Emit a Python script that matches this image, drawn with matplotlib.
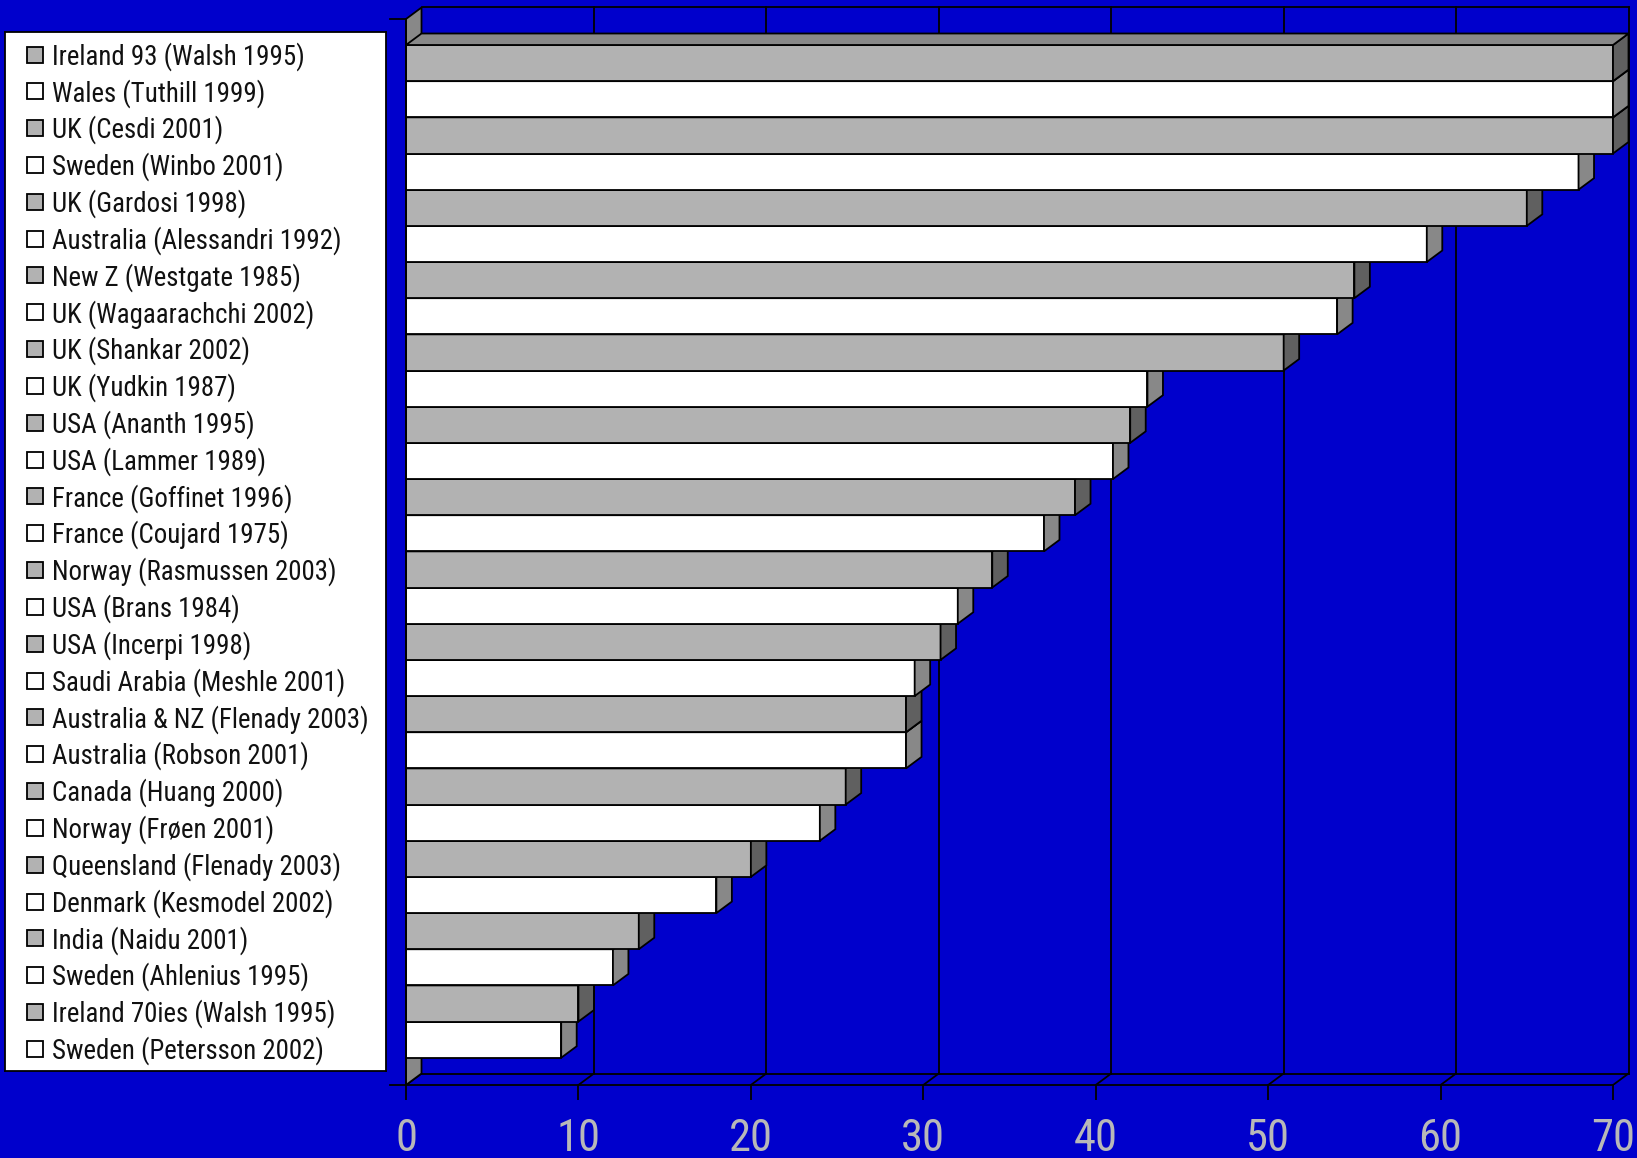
import matplotlib
matplotlib.use("Agg")
import matplotlib.pyplot as plt
from matplotlib.patches import Polygon, Rectangle

# stillbirth rate studies, top to bottom
studies = [
    "Ireland 93 (Walsh 1995)",
    "Wales (Tuthill 1999)",
    "UK (Cesdi 2001)",
    "Sweden (Winbo 2001)",
    "UK (Gardosi 1998)",
    "Australia (Alessandri 1992)",
    "New Z (Westgate 1985)",
    "UK (Wagaarachchi 2002)",
    "UK (Shankar 2002)",
    "UK (Yudkin 1987)",
    "USA (Ananth 1995)",
    "USA (Lammer 1989)",
    "France (Goffinet 1996)",
    "France (Coujard 1975)",
    "Norway (Rasmussen 2003)",
    "USA (Brans 1984)",
    "USA (Incerpi 1998)",
    "Saudi Arabia (Meshle 2001)",
    "Australia & NZ (Flenady 2003)",
    "Australia (Robson 2001)",
    "Canada (Huang 2000)",
    "Norway (Frøen 2001)",
    "Queensland (Flenady 2003)",
    "Denmark (Kesmodel 2002)",
    "India (Naidu 2001)",
    "Sweden (Ahlenius 1995)",
    "Ireland 70ies (Walsh 1995)",
    "Sweden (Petersson 2002)",
]
values = [70, 70, 70, 68, 65, 59.2, 55, 54, 50.9, 43, 42, 41, 38.8, 37,
          34, 32, 31, 29.5, 29, 29, 25.5, 24, 20, 18, 13.5, 12, 10, 9]
xticks = [0, 10, 20, 30, 40, 50, 60, 70]

BLUE = "#0000cc"
FACE = ["#b2b2b2", "#ffffff"]
SIDE = ["#606060", "#888888"]
TOP = "#888888"
LW = 1.3
FONT = ["Roboto Condensed", "DejaVu Sans"]

W, H = 1637, 1158
fig = plt.figure(figsize=(W / 100, H / 100), dpi=100)
fig.patch.set_facecolor(BLUE)

# pixel layout of the plot
X0, PER = 406, 17.243      # px of value 0, px per unit
BAR_TOP, PITCH = 45, 36.17  # px of first bar top, px per bar
def ux(px): return (px - X0) / PER
def uy(px): return (px - BAR_TOP) / PITCH

ax = fig.add_axes([380 / W, 1 - 1085 / H, (W - 380) / W, 1085 / H])
ax.set_xlim(ux(380), ux(W))
ax.set_ylim(uy(1085), uy(0))
ax.set_facecolor(BLUE)
for s in ax.spines.values():
    s.set_visible(False)
ax.set_yticks([])

DX = 15.5 / PER
DY = 11.5 / PITCH
vmax = xticks[-1]
y_front = uy(1085)          # front floor edge
y_back = y_front - DY       # back floor edge
y_top = uy(19)              # top of left wall, front
y_top_back = y_top - DY

# left wall
ax.add_patch(Polygon([(0, y_top), (DX, y_top_back), (DX, y_back), (0, y_front)],
                     closed=True, facecolor=TOP, edgecolor="black", lw=LW, zorder=2))

# back wall gridlines, floor and frame
for t in xticks[1:]:
    ax.plot([t + DX, t + DX], [y_back, y_top_back], color="black", lw=LW, zorder=1)
for t in xticks:
    ax.plot([t, t + DX], [y_front, y_back], color="black", lw=LW, zorder=1)
ax.plot([DX, vmax + DX], [y_top_back, y_top_back], color="black", lw=LW, zorder=1)
ax.plot([DX, vmax + DX], [y_back, y_back], color="black", lw=LW, zorder=1)
ax.plot([ux(390), vmax], [y_front, y_front], color="black", lw=LW, zorder=1, clip_on=False)
ax.plot([0, 0], [y_top, y_front], color="black", lw=LW, zorder=50)
ax.plot([ux(390), 0], [y_top, y_top], color="black", lw=LW, zorder=50, clip_on=False)

# 3-D bars: upper bars overlap lower ones
n = len(values)
for k, v in enumerate(values):
    z = 10 + (n - k)
    c = k % 2
    ax.barh(k + 0.5, v, height=1.0, left=0, color=FACE[c],
            edgecolor="black", linewidth=LW, zorder=z)
    ax.add_patch(Polygon([(v, k), (v + DX, k - DY), (v + DX, k + 1 - DY), (v, k + 1)],
                         closed=True, facecolor=SIDE[c], edgecolor="black",
                         lw=LW, zorder=z))
    ax.add_patch(Polygon([(0, k), (DX, k - DY), (v + DX, k - DY), (v, k)],
                         closed=True, facecolor=TOP, edgecolor="black",
                         lw=LW, zorder=z))

# value axis: tick marks below the floor, labels set on a fixed baseline
ax.set_xticks(xticks)
ax.set_xticklabels([])
ax.tick_params(axis="x", length=10.8, width=LW, color="black", direction="out")
for t in xticks:
    ax.text(t, uy(1151), str(t), ha="center", va="baseline", fontsize=32,
            family=FONT, color="#b8b8b8", clip_on=False)

# legend box
lx0, lx1, ly0, ly1 = 5, 386, 32, 1071
lax = fig.add_axes([lx0 / W, 1 - ly1 / H, (lx1 - lx0) / W, (ly1 - ly0) / H])
lax.set_xlim(lx0, lx1)
lax.set_ylim(ly1, ly0)
lax.set_facecolor("white")
lax.set_xticks([])
lax.set_yticks([])
for s in lax.spines.values():
    s.set_linewidth(LW)
    s.set_color("black")
for i, name in enumerate(studies):
    yc = 54.5 + i * 36.83
    lax.add_patch(Rectangle((27, yc - 8), 16, 16, facecolor=FACE[i % 2],
                            edgecolor="black", lw=LW))
    lax.text(52, yc + 9.8, name, va="baseline", ha="left", fontsize=19.4,
             family=FONT, color="#111111")

fig.savefig("out.png", dpi=100, facecolor=BLUE)
